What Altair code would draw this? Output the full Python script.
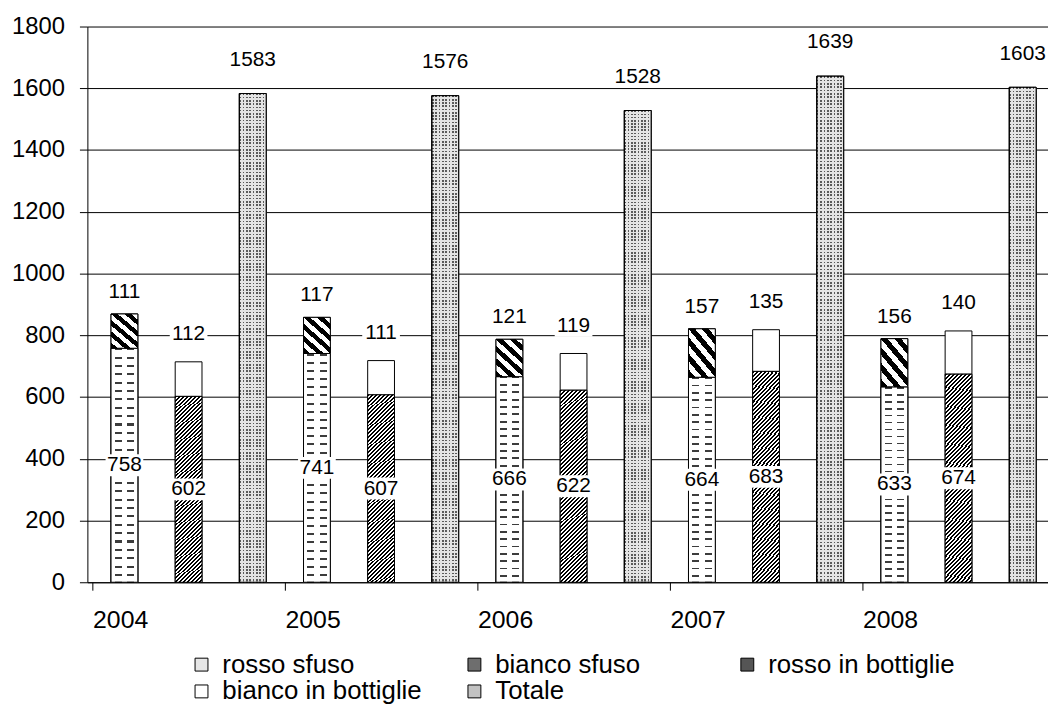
import altair as alt
import pandas as pd

# ---------------- data ----------------
years = ["2004", "2005", "2006", "2007", "2008"]
rosso_sfuso = [758, 741, 666, 664, 633]
bianco_sfuso = [111, 117, 121, 157, 156]
rosso_bottiglie = [602, 607, 622, 683, 674]
bianco_bottiglie = [112, 111, 119, 135, 140]
totale = [1583, 1576, 1528, 1639, 1603]
series_names = ["rosso sfuso", "bianco sfuso", "rosso in bottiglie",
                "bianco in bottiglie", "Totale"]
y_ticks = list(range(0, 1801, 200))

rows = []
for j, yr in enumerate(years):
    rs, bs = rosso_sfuso[j], bianco_sfuso[j]
    rb, bb = rosso_bottiglie[j], bianco_bottiglie[j]
    tt = totale[j]
    rows += [
        dict(year=yr, slot=3 * j, series="rosso sfuso", y0=0, y1=rs, value=rs, anchor=rs / 2),
        dict(year=yr, slot=3 * j, series="bianco sfuso", y0=rs, y1=rs + bs, value=bs, anchor=rs + bs),
        dict(year=yr, slot=3 * j + 1, series="rosso in bottiglie", y0=0, y1=rb, value=rb, anchor=rb / 2),
        dict(year=yr, slot=3 * j + 1, series="bianco in bottiglie", y0=rb, y1=rb + bb, value=bb, anchor=rb + bb),
        dict(year=yr, slot=3 * j + 2, series="Totale", y0=0, y1=tt, value=tt, anchor=tt),
    ]
df = pd.DataFrame(rows)

# ---------------- styling helpers (patterns as hard-stop gradients) ----------------
BAR_W = 27
WHITE = "#ffffff"
CLEAR = "rgba(255,255,255,0)"


def stripes(n, c1, c2, duty):
    stops = []
    for k in range(n):
        a, b, c = k / n, (k + duty) / n, (k + 1) / n
        stops += [
            {"offset": round(a, 5), "color": c1},
            {"offset": round(b, 5), "color": c1},
            {"offset": round(b, 5), "color": c2},
            {"offset": round(min(c, 1.0), 5), "color": c2},
        ]
    return stops


def diag(w, h, kind):
    a = w / (w + h)
    b = h / (w + h)
    s = a * a + b * b
    if kind == "fwd":
        return dict(x1=0, y1=0, x2=round(a / s, 5), y2=round(b / s, 5))
    return dict(x1=0, y1=1, x2=round(a / s, 5), y2=round(1 - b / s, 5))


def bands(pairs):
    stops = []
    for a, b, c in pairs:
        stops += [{"offset": a, "color": c}, {"offset": b, "color": c}]
    return stops


# rosso sfuso: short horizontal dashes
grad_lines = dict(gradient="linear", x1=0, y1=0, x2=0, y2=1,
                  stops=stripes(28, "#3c3c3c", WHITE, 0.25))
grad_mask = dict(gradient="linear", x1=0, y1=0, x2=1, y2=0, stops=bands([
    (0.0, 0.14, WHITE), (0.14, 0.4, CLEAR), (0.4, 0.6, WHITE),
    (0.6, 0.86, CLEAR), (0.86, 1.0, WHITE)]))
# bianco sfuso: thick "\" stripes
grad_back = dict(gradient="linear", **diag(BAR_W, 41, "back"),
                 stops=stripes(5, "#000000", WHITE, 0.5))
# rosso in bottiglie: fine "/" hatch
grad_fwd = dict(gradient="linear", **diag(BAR_W, 197, "fwd"),
                stops=stripes(56, "#000000", WHITE, 0.5))
# Totale: dotted grey
grad_rows = dict(gradient="linear", x1=0, y1=0, x2=0, y2=1,
                 stops=stripes(150, "#5a5a5a", "#e4e4e4", 0.5))
grad_cols = dict(gradient="linear", x1=0, y1=0, x2=1, y2=0,
                 stops=stripes(8, "rgba(228,228,228,0)", "#e4e4e4", 0.5))

# ---------------- encodings ----------------
x_scale = alt.Scale(domain=[-0.5, 14.317], nice=False, zero=False)
y_scale = alt.Scale(domain=[0, 1800], nice=False)

x_axis = alt.Axis(values=[-0.5, 2.5, 5.5, 8.5, 11.5],
                  labelExpr="toString(2004 + (datum.value + 0.5) / 3)",
                  labelOffset=28, labelFlush=False, tickSize=8, labelPadding=18,
                  labelFontSize=25, grid=False, title=None, domainColor="black",
                  tickColor="black", labelColor="black")
y_axis = alt.Axis(values=y_ticks, format="d", tickSize=8, labelPadding=15,
                  labelFontSize=24, gridColor="black", gridWidth=1,
                  domainColor="black", tickColor="black", labelColor="black",
                  title=None)

X = alt.X("slot:Q", scale=x_scale, axis=x_axis)
Y = alt.Y("y0:Q", scale=y_scale, axis=y_axis)
Y2 = alt.Y2("y1:Q")
YA = alt.Y("anchor:Q", scale=y_scale, axis=y_axis)

legend = alt.Legend(title=None, orient="none", legendX=102, legendY=630,
                    direction="horizontal", columns=3, gridAlign="all",
                    columnPadding=40, rowPadding=1,
                    symbolType="square", symbolSize=169, symbolStrokeColor="black",
                    symbolStrokeWidth=1, labelFontSize=26, labelOffset=8,
                    labelLimit=400, padding=0, labelColor="black")

base = alt.Chart(df).mark_bar(size=BAR_W, stroke="black", strokeWidth=1).encode(
    x=X, y=Y, y2=Y2,
    color=alt.Color("series:N",
                    scale=alt.Scale(domain=series_names,
                                    range=["#e6e6e6", "#6e6e6e", "#555555",
                                           "#ffffff", "#c2c2c2"]),
                    legend=legend),
)


def pattern_layer(name, fill):
    return alt.Chart(df).transform_filter(alt.datum.series == name).mark_bar(
        size=BAR_W, fill=fill, stroke="black", strokeWidth=1
    ).encode(x=X, y=Y, y2=Y2)


pattern_layers = [
    pattern_layer("rosso sfuso", grad_lines),
    pattern_layer("rosso sfuso", grad_mask),
    pattern_layer("bianco sfuso", grad_back),
    pattern_layer("rosso in bottiglie", grad_fwd),
    pattern_layer("Totale", grad_rows),
    pattern_layer("Totale", grad_cols),
]

BOX3 = "M-1,-0.58H1V0.58H-1Z"


def label_layers(names, y_off, box=True):
    flt = " || ".join(f"datum.series == '{n}'" for n in names)
    src = alt.Chart(df).transform_filter(flt)
    out = []
    if box:
        out.append(src.mark_point(shape=BOX3, size=1444, filled=True, fill="white",
                                  opacity=1, strokeWidth=0, yOffset=y_off)
                   .encode(x=X, y=YA))
    out.append(src.mark_text(fontSize=21, color="black", baseline="middle",
                             yOffset=y_off)
               .encode(x=X, y=YA, text=alt.Text("value:Q")))
    return out


labels = []
labels += label_layers(["rosso sfuso", "rosso in bottiglie"], 0)
labels += label_layers(["bianco sfuso"], -22)
labels += label_layers(["bianco in bottiglie"], -28)
labels += label_layers(["Totale"], -34, box=False)

chart = alt.layer(base, *pattern_layers, *labels).properties(
    width=968, height=560,
    autosize=alt.AutoSizeParams(type="none"),
    padding={"left": 80, "top": 16, "right": 0, "bottom": 120},
).configure(font="Liberation Sans").configure_view(strokeWidth=0)

chart.save("out.html", embed_options={"renderer": "svg", "actions": False})
